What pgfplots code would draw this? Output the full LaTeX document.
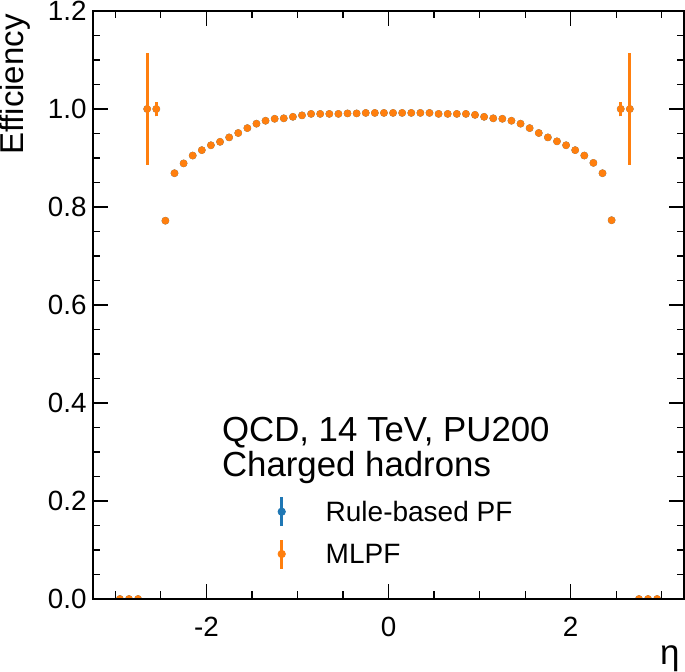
\documentclass[border=0pt]{standalone}
\usepackage{fontspec}
\setmainfont{Liberation Sans}
\usepackage{pgfplots}
\usepackage{pgfplotstable}
\pgfplotsset{compat=1.18}
\definecolor{mplblue}{HTML}{1F77B4}
\definecolor{mplorange}{HTML}{FF7F0E}

\pgfplotstableread{
x y
-2.95 0
-2.85 0
-2.75 0
-2.65 1.0
-2.55 1.0
-2.45 0.772
-2.35 0.869
-2.25 0.889
-2.15 0.905
-2.05 0.916
-1.95 0.926
-1.85 0.933
-1.75 0.942
-1.65 0.951
-1.55 0.961
-1.45 0.970
-1.35 0.976
-1.25 0.980
-1.15 0.981
-1.05 0.984
-0.95 0.987
-0.85 0.990
-0.75 0.990
-0.65 0.990
-0.55 0.990
-0.45 0.991
-0.35 0.991
-0.25 0.992
-0.15 0.992
-0.05 0.992
0.05 0.992
0.15 0.992
0.25 0.992
0.35 0.992
0.45 0.992
0.55 0.990
0.65 0.990
0.75 0.990
0.85 0.990
0.95 0.988
1.05 0.984
1.15 0.981
1.25 0.980
1.35 0.976
1.45 0.970
1.55 0.961
1.65 0.951
1.75 0.942
1.85 0.934
1.95 0.926
2.05 0.916
2.15 0.905
2.25 0.890
2.35 0.869
2.45 0.773
2.55 1.0
2.65 1.0
2.75 0
2.85 0
2.95 0
}\effdata

\begin{document}
\begin{tikzpicture}
\begin{axis}[name=ax, scale only axis, width=295.5pt, height=294pt,
  xmin=-3.245, xmax=3.245, ymin=0, ymax=1.2,
  xtick={-2,0,2}, xticklabels={-2,0,2},
  minor xtick={-3,-2.5,-1.5,-1,-0.5,0.5,1,1.5,2.5,3},
  ytick={0,0.2,0.4,0.6,0.8,1.0,1.2}, yticklabels={0.0,0.2,0.4,0.6,0.8,1.0,1.2},
  minor ytick={0.05,0.1,0.15,0.25,0.3,0.35,0.45,0.5,0.55,0.65,0.7,0.75,0.85,0.9,0.95,1.05,1.1,1.15},
  tick align=inside, xtick pos=both, ytick pos=both,
  major tick length=7.5pt, minor tick length=3.75pt,
  tick style={black, line width=0.6pt},
  axis line style={line width=1.2pt, black},
  tick label style={font=\fontsize{13.9}{16}\selectfont},
  /pgf/number format/assume math mode=true,
  xticklabel style={inner sep=0pt, anchor=north, yshift=-9pt},
  yticklabel style={inner sep=0pt, anchor=east, xshift=-3pt},
  xlabel={η},
  xlabel style={font=\fontsize{17.5}{20}\selectfont, at={(rel axis cs:0.9932,-0.112)}, anchor=base east, inner sep=0pt},
  ylabel={Efficiency},
  ylabel style={font=\fontsize{16.5}{19}\selectfont, at={(rel axis cs:-0.1184,0.995)}, anchor=base east, inner sep=0pt},
  axis on top, clip marker paths=true,
  legend cell align=left,
  legend style={at={(axis cs:-1.3046,0.2213)}, anchor=north west, draw=none, fill=none,
    inner sep=0pt, outer sep=0pt, column sep=16pt, row sep=0pt,
    font=\fontsize{14}{16}\selectfont, nodes={inner sep=0pt, text depth=0pt}},
  legend image code/.code={\path[draw=none,fill=none] (0pt,-10.575pt) rectangle (12pt,10.575pt);
    \draw[line width=1.4pt] (6pt,-7.25pt) -- (6pt,7.25pt);
    \fill (6pt,0pt) circle (1.85pt);},
]
% Rule-based PF error bars (hidden under MLPF)
\addplot[mplblue, line width=1.6pt, forget plot] coordinates {(-2.65,0.886) (-2.65,1.114)};
\addplot[mplblue, line width=1.6pt, forget plot] coordinates {(-2.55,0.985) (-2.55,1.015)};
\addplot[mplblue, line width=1.6pt, forget plot] coordinates {(2.55,0.985) (2.55,1.015)};
\addplot[mplblue, line width=1.6pt, forget plot] coordinates {(2.65,0.886) (2.65,1.114)};
\addplot[mplblue, only marks, mark=*, mark size=1.7pt, mark options={line width=0.4pt}]
  table[x=x, y=y] {\effdata};
% MLPF error bars
\addplot[mplorange, line width=1.6pt, forget plot] coordinates {(-2.65,0.886) (-2.65,1.114)};
\addplot[mplorange, line width=1.6pt, forget plot] coordinates {(-2.55,0.985) (-2.55,1.015)};
\addplot[mplorange, line width=1.6pt, forget plot] coordinates {(2.55,0.985) (2.55,1.015)};
\addplot[mplorange, line width=1.6pt, forget plot] coordinates {(2.65,0.886) (2.65,1.114)};
\addplot[mplorange, only marks, mark=*, mark size=1.7pt, mark options={line width=0.4pt}]
  table[x=x, y=y] {\effdata};
\legend{Rule-based PF, MLPF}
\node[anchor=base west, inner sep=0pt, font=\fontsize{17.4}{20}\selectfont] at (axis cs:-1.832,0.321) {QCD, 14 TeV, PU200};
\node[anchor=base west, inner sep=0pt, font=\fontsize{17.4}{20}\selectfont] at (axis cs:-1.832,0.2496) {Charged hadrons};
\end{axis}
\pgfresetboundingbox
\path ([shift={(-46.5pt,-36.5pt)}]ax.south west) rectangle ([shift={(0.5pt,5.5pt)}]ax.north east);
\end{tikzpicture}
\end{document}
